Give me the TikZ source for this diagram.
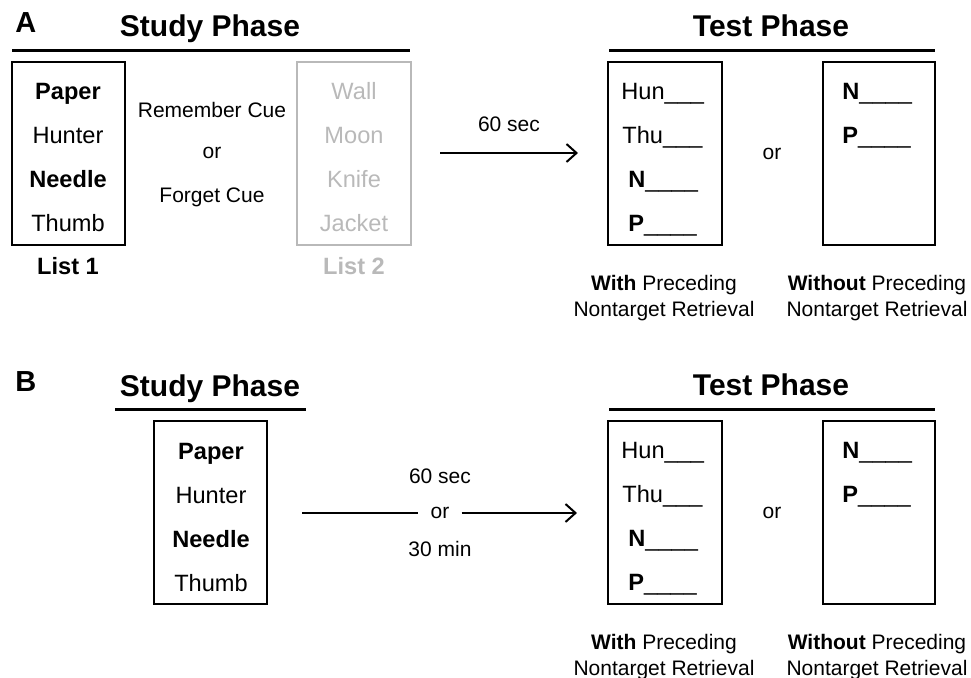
\documentclass[tikz,border=0pt]{standalone}
\usepackage{fontspec}
\setmainfont{Liberation Sans}
\usetikzlibrary{arrows.meta}
\definecolor{listgray}{RGB}{185,185,185}

\begin{document}
\begin{tikzpicture}[x=0.5pt, y=-0.5pt,
  panel/.style={font=\fontsize{14.5}{17}\selectfont\bfseries, inner sep=0pt, anchor=base west},
  phase/.style={font=\fontsize{15}{18}\selectfont\bfseries, inner sep=0pt, anchor=base},
  word/.style={font=\fontsize{11.8}{14}\selectfont, inner sep=0pt, anchor=base},
  blank/.style={word, anchor=base west},
  note/.style={font=\fontsize{10.5}{13}\selectfont, inner sep=0pt, anchor=base},
  rule/.style={line width=1.5pt},
  listbox/.style={line width=1.4pt},
  delay/.style={line width=1pt, -{Straight Barb[length=5pt, width=9pt]}}]

  \useasboundingbox (0,0) rectangle (971,678);

  % Panel A: study phase
  \node[panel] (labA) at (15,33) {A};
  \node[phase] (studyA) at (210,37) {Study Phase};
  \draw[rule] (12,51) -- (410,51);

  \draw[listbox] (12,62) rectangle (125,245);
  \foreach \w [count=\i] in {\textbf{Paper}, Hunter, \textbf{Needle}, Thumb}
    \node[word] (listA\i) at (68,{56+44*\i}) {\w};
  \node[word, font=\fontsize{11.8}{14}\selectfont\bfseries] (listoneA) at (68,275) {List 1};

  \node[note] (rememberA) at (212,118) {Remember Cue};
  \node[note] (cueorA) at (212,159) {or};
  \node[note] (forgetA) at (212,203) {Forget Cue};

  \draw[listbox, listgray] (297,62) rectangle (411,245);
  \foreach \w [count=\i] in {Wall, Moon, Knife, Jacket}
    \node[word, listgray] (listtwoA\i) at (354,{56+44*\i}) {\w};
  \node[word, listgray, font=\fontsize{11.8}{14}\selectfont\bfseries] (listtwoA) at (354,275) {List 2};

  % Retention interval A
  \coordinate (delayA-start) at (440,153);
  \coordinate (delayA-end) at (578,153);
  \draw[delay] (delayA-start) -- (delayA-end);
  \node[note] (secA) at (509,132) {60 sec};

  % Panel B: study phase
  \node[panel] (labB) at (15,392) {B};
  \node[phase] (studyB) at (210,397) {Study Phase};
  \draw[rule] (115,410) -- (306,410);

  \draw[listbox] (154,421) rectangle (267,604);
  \foreach \w [count=\i] in {\textbf{Paper}, Hunter, \textbf{Needle}, Thumb}
    \node[word] (listB\i) at (211,{416+44*\i}) {\w};

  % Retention interval B
  \coordinate (delayB-start) at (302,513);
  \coordinate (delayB-end) at (577,513);
  \node[note, anchor=center, inner xsep=6pt] (orB) at (440,513) {or};
  \node[note] (secB) at (440,484) {60 sec};
  \node[note] (minB) at (440,557) {30 min};
  \draw[line width=1pt] (delayB-start) -- (orB);
  \draw[delay] (orB) -- (delayB-end);

  % Test phase (same in both panels)
  \foreach \dy/\p in {0/A, 359/B} {
    \node[phase] (test\p) at (771,{37+\dy}) {Test Phase};
    \draw[rule] (609,{51+\dy}) -- (935,{51+\dy});
    \draw[listbox] (608,{62+\dy}) rectangle (722,{245+\dy});
    \draw[listbox] (823,{62+\dy}) rectangle (935,{245+\dy});

    \foreach \w/\x [count=\i] in {Hun\_\_\_/621, Thu\_\_\_/622, \textbf{N}\_\_\_\_/628, \textbf{P}\_\_\_\_/628}
      \node[blank] (with\p\i) at (\x,{56+44*\i+\dy}) {\w};
    \foreach \w [count=\i] in {\textbf{N}\_\_\_\_, \textbf{P}\_\_\_\_}
      \node[blank] (without\p\i) at (842,{56+44*\i+\dy}) {\w};

    \node[note] (testor\p) at (772,{160+\dy}) {or};

    \node[note] (withcap\p) at (664,{291+\dy}) {\textbf{With} Preceding};
    \node[note] (withret\p) at (664,{317+\dy}) {Nontarget Retrieval};
    \node[note] (withoutcap\p) at (877,{291+\dy}) {\textbf{Without} Preceding};
    \node[note] (withoutret\p) at (877,{317+\dy}) {Nontarget Retrieval};
  }
\end{tikzpicture}
\end{document}
